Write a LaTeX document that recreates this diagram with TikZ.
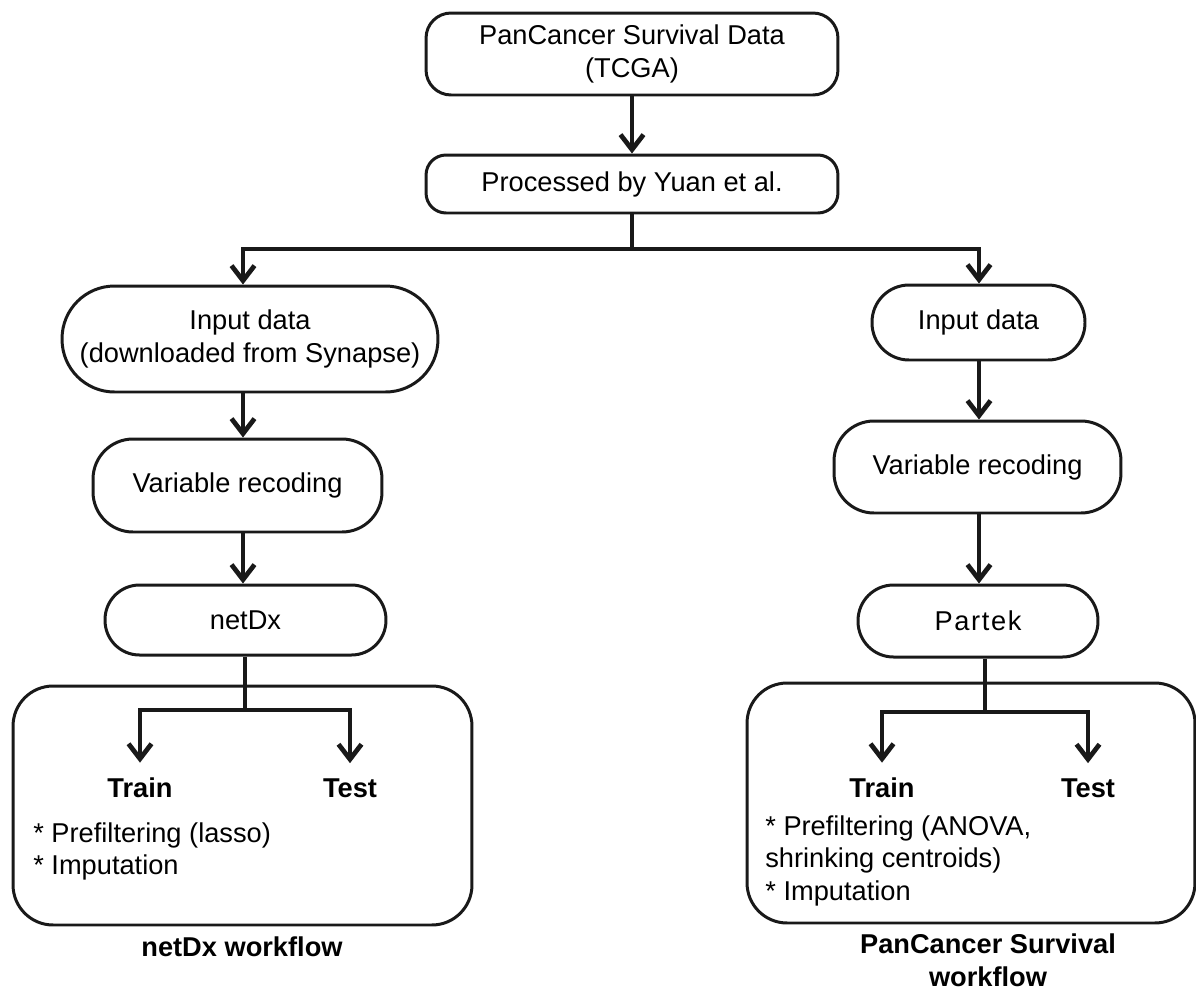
\documentclass[tikz,border=0pt]{standalone}
\usepackage{fontspec}
\setmainfont{Liberation Sans}
\usetikzlibrary{arrows.meta, positioning, calc}

\newcommand{\flowfont}{\fontsize{15.5pt}{18.5pt}\selectfont}

\tikzset{
  stage/.style={draw=black!90, line width=1.7pt, align=center, font=\flowfont, inner sep=0pt},
  flow/.style={line width=2.7pt, black!90, -{Straight Barb[length=0.3cm, width=0.46cm]}},
  link/.style={line width=2.7pt, black!90},
  groupbox/.style={draw=black!90, line width=1.7pt, rounded corners=0.8cm, inner sep=0pt},
  lbl/.style={font=\flowfont\bfseries, inner xsep=0pt, inner ysep=0.3cm},
  notes/.style={font=\flowfont, align=left, inner sep=0pt, anchor=north west},
}

\begin{document}
\begin{tikzpicture}[x=0.02cm, y=-0.02cm]
  \useasboundingbox (0,0) rectangle (1196,991);

  % group frames
  \node[groupbox, minimum width=9.18cm, minimum height=4.78cm] (boxL) at (242.5,805.5) {};
  \node[groupbox, minimum width=8.96cm, minimum height=4.8cm] (boxR) at (971,803) {};

  % shared trunk
  \node[stage, rounded corners=0.5cm, minimum width=8.24cm, minimum height=1.64cm] (tcga) at (632,54)
    {PanCancer Survival Data\\(TCGA)};
  \node[stage, rounded corners=0.4cm, minimum width=8.24cm, minimum height=1.16cm] (yuan) at (632,184)
    {Processed by Yuan et al.};

  % netDx branch
  \node[stage, rounded corners=1.05cm, minimum width=7.52cm, minimum height=2.12cm] (inL) at (250,339)
    {Input data\\(downloaded from Synapse)};
  \node[stage, rounded corners=0.8cm, minimum width=5.78cm, minimum height=1.86cm] (recL) at (237.5,485.5)
    {Variable recoding};
  \node[stage, rounded corners=0.69cm, minimum width=5.62cm, minimum height=1.4cm] (netdx) at (245.5,620)
    {netDx};

  % PanCancer branch
  \node[stage, rounded corners=0.74cm, minimum width=4.26cm, minimum height=1.5cm] (inR) at (978.5,322.5)
    {Input data};
  \node[stage, rounded corners=0.8cm, minimum width=5.74cm, minimum height=1.84cm] (recR) at (977.5,467)
    {Variable recoding};
  \node[stage, rounded corners=0.71cm, minimum width=4.8cm, minimum height=1.44cm] (partek) at (978,621)
    {{\addfontfeatures{LetterSpace=6}Partek}};

  % train / test
  \node[lbl] (trainL) at (140,788) {Train};
  \node[lbl] (testL) at (350,788) {Test};
  \node[lbl] (trainR) at (882,788) {Train};
  \node[lbl] (testR) at (1088,788) {Test};

  \node[notes] (noteL) at (33,822) {* Prefiltering (lasso)\\* Imputation};
  \node[notes] (noteR) at (765,815) {* Prefiltering (ANOVA,\\shrinking centroids)\\* Imputation};

  % captions
  \node[font=\flowfont\bfseries] (capL) at (242,947) {netDx workflow};
  \node[font=\flowfont\bfseries, align=center] (capR) at (988,960) {PanCancer Survival\\workflow};

  % connectors
  \coordinate (split) at (632,249);
  \coordinate (colL) at (243,249);
  \coordinate (colR) at (979,249);
  \coordinate (forkL) at (245,710);
  \coordinate (forkR) at (985,712);

  \draw[flow] (tcga) -- (yuan);
  \draw[link] (yuan) -- (split);
  \draw[flow] (split) -| (inL.north -| colL);
  \draw[flow] (split) -| (inR.north -| colR);

  \draw[flow] (inL.south -| colL) -- (recL.north -| colL);
  \draw[flow] (recL.south -| colL) -- (netdx.north -| colL);
  \draw[link] (netdx.south -| forkL) -- (forkL);
  \draw[flow] (forkL) -| (trainL.north);
  \draw[flow] (forkL) -| (testL.north);

  \draw[flow] (inR.south -| colR) -- (recR.north -| colR);
  \draw[flow] (recR.south -| colR) -- (partek.north -| colR);
  \draw[link] (partek.south -| forkR) -- (forkR);
  \draw[flow] (forkR) -| (trainR.north);
  \draw[flow] (forkR) -| (testR.north);
\end{tikzpicture}
\end{document}
